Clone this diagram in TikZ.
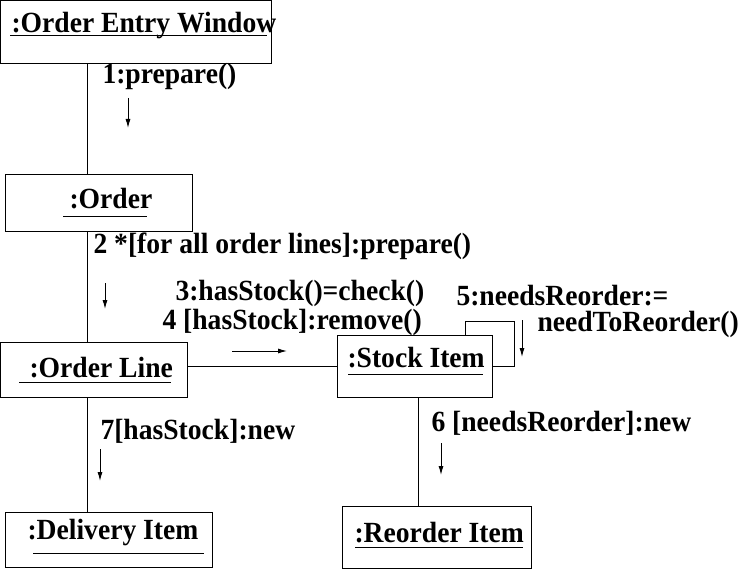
\documentclass[tikz,border=0pt]{standalone}
\usepackage{fontspec}
\setmainfont{Liberation Serif}
\usetikzlibrary{arrows.meta}

\newcommand\tallt[1]{\scalebox{1}[1.06]{#1}}

\tikzset{
  obj/.style = {draw, rectangle, anchor=north west, inner sep=0pt, outer sep=0pt},
  lbl/.style = {anchor=base west, inner sep=0pt, font=\fontsize{27.6}{30}\selectfont\bfseries},
  msg/.style = {-{Latex[length=9pt,width=5pt]}}
}

\begin{document}
\begin{tikzpicture}[x=1pt, y=-1pt, line width=1pt]
  \useasboundingbox (0,0) rectangle (738,569);

  % objects
  \node[obj, minimum width=270.5pt, minimum height=63.5pt] (OrderEntry) at (0.5,0.5) {};
  \node[obj, minimum width=187pt, minimum height=57pt] (Order) at (5,175) {};
  \node[obj, minimum width=186.5pt, minimum height=55pt] (OrderLine) at (0.5,342) {};
  \node[obj, minimum width=155pt, minimum height=62pt] (StockItem) at (337,335) {};
  \node[obj, minimum width=207pt, minimum height=55pt] (DeliveryItem) at (5,512) {};
  \node[obj, minimum width=189pt, minimum height=62pt] (ReorderItem) at (342,506) {};

  \node[lbl] (OrderEntryT) at (11,33) {\tallt{:Order Entry Window}};
  \node[lbl] (OrderT) at (69,209) {\tallt{:Order}};
  \node[lbl] (OrderLineT) at (29,377) {\tallt{:Order Line}};
  \node[lbl] (StockItemT) at (347,367) {\tallt{:Stock Item}};
  \node[lbl] (DeliveryItemT) at (27,539) {\tallt{:Delivery Item}};
  \node[lbl] (ReorderItemT) at (354,542) {\tallt{:Reorder Item}};

  \draw (10,36) -- (267,36);
  \draw (63,217) -- (147,217);
  \draw (19,382) -- (171,382);
  \draw (348,374) -- (483,374);
  \draw (33,553) -- (204,553);
  \draw (355,547) -- (523,547);

  % links
  \coordinate (Spine) at (87,0);
  \coordinate (Spine2) at (418,0);
  \coordinate (Loop) at (514,321);
  \draw (OrderEntry.south -| Spine) -- (Order.north -| Spine);
  \draw (Order.south -| Spine) -- (OrderLine.north -| Spine);
  \draw (OrderLine.south -| Spine) -- (DeliveryItem.north -| Spine);
  \draw (OrderLine.east |- StockItem.west) -- (StockItem.west);
  \draw (StockItem.south -| Spine2) -- (ReorderItem.north -| Spine2);
  \draw ([xshift=-27pt]StockItem.north east) |- (Loop) |- ([yshift=-31pt]StockItem.north east);

  % messages
  \node[lbl] (Msg1) at (102,84) {\tallt{1:prepare()}};
  \node[lbl] (Msg2) at (93,254) {\tallt{2 *[for all order lines]:prepare()}};
  \node[lbl] (Msg3) at (175,300) {\tallt{3:hasStock()=check()}};
  \node[lbl] (Msg4) at (162,329) {\tallt{4 [hasStock]:remove()}};
  \node[lbl] (Msg5a) at (456,305) {\tallt{5:needsReorder:=}};
  \node[lbl] (Msg5b) at (537,331) {\tallt{needToReorder()}};
  \node[lbl] (Msg6) at (431,431) {\tallt{6 [needsReorder]:new}};
  \node[lbl] (Msg7) at (100,439) {\tallt{7[hasStock]:new}};

  \coordinate (A1) at (128,98);   \coordinate (B1) at (128,128);
  \coordinate (A2) at (105,283);  \coordinate (B2) at (105,309);
  \coordinate (A3) at (232,351);  \coordinate (B3) at (287,351);
  \coordinate (A5) at (522,320);  \coordinate (B5) at (522,357);
  \coordinate (A6) at (441,443);  \coordinate (B6) at (441,475);
  \coordinate (A7) at (100,449);  \coordinate (B7) at (100,481);
  \draw[msg] (A1) -- (B1);
  \draw[msg] (A2) -- (B2);
  \draw[msg] (A3) -- (B3);
  \draw[msg] (A5) -- (B5);
  \draw[msg] (A6) -- (B6);
  \draw[msg] (A7) -- (B7);
\end{tikzpicture}
\end{document}
